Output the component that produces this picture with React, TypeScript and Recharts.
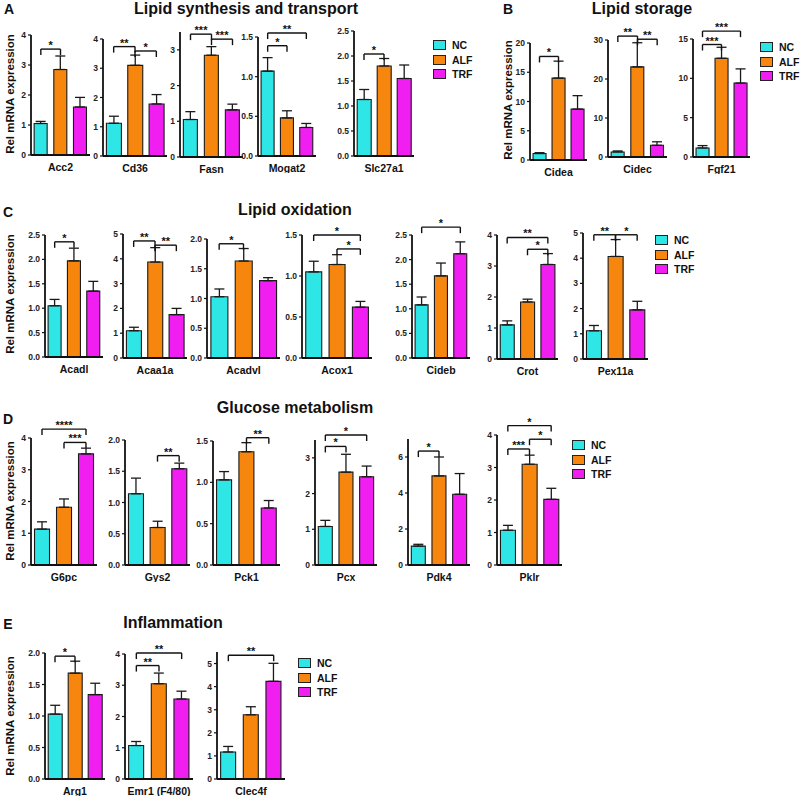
import React from "react";
import { BarChart, Bar, XAxis, YAxis, ErrorBar, Cell, ReferenceLine } from "recharts";

const GROUPS = ["NC", "ALF", "TRF"];
const COLORS = ["#2ee6e6", "#f7860f", "#f01ef0"];
const FONT = '"Liberation Sans", Arial, sans-serif';

// A - lipid synthesis and transport
const synthGenes = ["Acc2", "Cd36", "Fasn", "Mogat2", "Slc27a1"];
const synthMean = [[1.05, 2.85, 1.6], [1.12, 3.1, 1.78], [1.05, 2.85, 1.32], [1.07, 0.48, 0.36], [1.13, 1.8, 1.55]];
const synthErr = [[0.07, 0.45, 0.32], [0.24, 0.35, 0.32], [0.22, 0.24, 0.16], [0.17, 0.09, 0.05], [0.2, 0.15, 0.27]];
const synthTicks = [[0, 1, 2, 3, 4], [0, 1, 2, 3, 4], [0, 1, 2, 3], [0, 0.5, 1, 1.5], [0, 0.5, 1, 1.5, 2, 2.5]];
const synthMax = [4, 4, 3.5, 1.5, 2.5];
const synthSig = [
  [["NC", "ALF", 3.53, "*"]],
  [["NC", "ALF", 3.74, "**"], ["ALF", "TRF", 3.59, "*"]],
  [["NC", "ALF", 3.44, "***"], ["ALF", "TRF", 3.3, "***"]],
  [["NC", "TRF", 1.55, "**"], ["NC", "ALF", 1.39, "*"]],
  [["NC", "ALF", 2.04, "*"]],
];

// B - lipid storage
const storeGenes = ["Cidea", "Cidec", "Fgf21"];
const storeMean = [[1.1, 14, 8.7], [1.3, 23.1, 3.0], [1.15, 12.55, 9.4]];
const storeErr = [[0.15, 2.9, 2.3], [0.25, 6.2, 0.9], [0.3, 1.4, 1.8]];
const storeTicks = [[0, 5, 10, 15, 20], [0, 10, 20, 30], [0, 5, 10, 15]];
const storeMax = [20, 30, 15];
const storeSig = [
  [["NC", "ALF", 17.7, "*"]],
  [["NC", "ALF", 31, "**"], ["ALF", "TRF", 30.2, "**"]],
  [["NC", "TRF", 16, "***"], ["NC", "ALF", 14.3, "***"]],
];

// C - lipid oxidation
const oxGenes = ["Acadl", "Acaa1a", "Acadvl", "Acox1", "Cideb", "Crot", "Pex11a"];
const oxMean = [[1.05, 1.97, 1.35], [1.1, 3.87, 1.75], [1.03, 1.63, 1.3], [1.05, 1.14, 0.62], [1.08, 1.67, 2.12], [1.1, 1.84, 3.05], [1.12, 4.07, 1.95]];
const oxErr = [[0.13, 0.26, 0.2], [0.14, 0.58, 0.25], [0.13, 0.21, 0.05], [0.13, 0.12, 0.07], [0.16, 0.26, 0.24], [0.13, 0.09, 0.35], [0.21, 0.67, 0.34]];
const oxTicks = [[0, 0.5, 1, 1.5, 2, 2.5], [0, 1, 2, 3, 4, 5], [0, 0.5, 1, 1.5, 2], [0, 0.5, 1, 1.5], [0, 0.5, 1, 1.5, 2, 2.5], [0, 1, 2, 3, 4], [0, 1, 2, 3, 4, 5]];
const oxMax = [2.5, 5, 2, 1.5, 2.5, 4, 5];
const oxSig = [
  [["NC", "ALF", 2.36, "*"]],
  [["NC", "ALF", 4.72, "**"], ["ALF", "TRF", 4.55, "**"]],
  [["NC", "ALF", 1.92, "*"]],
  [["NC", "TRF", 1.5, "*"], ["ALF", "TRF", 1.33, "*"]],
  [["NC", "TRF", 2.66, "*"]],
  [["NC", "TRF", 3.92, "**"], ["ALF", "TRF", 3.54, "*"]],
  [["NC", "ALF", 4.93, "**"], ["ALF", "TRF", 4.93, "*"]],
];

// D - glucose metabolism
const glucGenes = ["G6pc", "Gys2", "Pck1", "Pcx", "Pdk4", "Pklr"];
const glucMean = [[1.13, 1.82, 3.5], [1.14, 0.6, 1.54], [1.03, 1.37, 0.69], [1.08, 2.6, 2.47], [1.05, 4.95, 3.93], [1.07, 3.1, 2.02]];
const glucErr = [[0.23, 0.26, 0.18], [0.25, 0.1, 0.09], [0.1, 0.11, 0.09], [0.17, 0.5, 0.3], [0.1, 1.05, 1.15], [0.15, 0.28, 0.34]];
const glucTicks = [[0, 1, 2, 3, 4], [0, 0.5, 1, 1.5, 2], [0, 0.5, 1, 1.5], [0, 1, 2, 3], [0, 2, 4, 6], [0, 1, 2, 3, 4]];
const glucMax = [4, 2, 1.5, 3.5, 7, 4];
const glucSig = [
  [["NC", "TRF", 4.28, "****"], ["ALF", "TRF", 3.86, "***"]],
  [["ALF", "TRF", 1.75, "**"]],
  [["ALF", "TRF", 1.54, "**"]],
  [["NC", "TRF", 3.64, "*"], ["NC", "ALF", 3.32, "*"]],
  [["NC", "ALF", 6.33, "*"]],
  [["NC", "TRF", 4.29, "*"], ["ALF", "TRF", 3.87, "*"], ["NC", "ALF", 3.57, "***"]],
];

// E - inflammation
const inflGenes = ["Arg1", "Emr1 (F4/80)", "Clec4f"];
const inflMean = [[1.03, 1.68, 1.34], [1.07, 3.05, 2.56], [1.17, 2.78, 4.23]];
const inflErr = [[0.14, 0.19, 0.18], [0.13, 0.34, 0.25], [0.24, 0.35, 0.78]];
const inflTicks = [[0, 0.5, 1, 1.5, 2], [0, 1, 2, 3, 4], [0, 1, 2, 3, 4, 5]];
const inflMax = [2, 4, 5.5];
const inflSig = [
  [["NC", "ALF", 1.95, "*"]],
  [["NC", "TRF", 4.03, "**"], ["NC", "ALF", 3.63, "**"]],
  [["NC", "TRF", 5.36, "**"]],
];

// placement of each mini chart: y-axis x, x-axis end, pixel of 0, pixel of domain max
const synthBox = [[31, 90, 155, 35], [103, 167, 156, 39], [180, 243, 157, 32], [258, 316, 156, 37], [354, 414, 156, 31]];
const storeBox = [[530, 587, 160, 43], [608, 667, 157, 40], [693, 750, 157, 39]];
const oxBox = [[45, 103, 357, 235], [123, 187, 358, 234], [207, 280, 358, 239], [302, 372, 358, 235], [412, 470, 358, 235], [497, 558, 359, 235], [583, 648, 359, 233]];
const glucBox = [[31, 97, 565, 438], [125, 190, 565, 440], [213, 280, 565, 441], [315, 377, 565, 440], [408, 470, 565, 439], [497, 562, 565, 435]];
const inflBox = [[45, 105, 779, 653], [125, 193, 779, 654], [217, 285, 779, 652]];

function Mini({ gene, mean, err, ticks, max, sig, box }: any) {
  const [x, x2, y0, yt] = box;
  const W = 28;
  const MT = 30;
  const XH = 17;
  const plotH = y0 - yt;
  const data = GROUPS.map((g, i) => ({ g, v: mean[i], e: [0, err[i]] }));
  const drop = (max * 6) / plotH;
  const dec = ticks.some((t: number) => t % 1 !== 0) ? 1 : 0;
  const lineProps = { stroke: "#111", strokeWidth: 1.4, ifOverflow: "visible" as const };
  return (
    <div style={{ position: "absolute", left: x - W, top: yt - MT }}>
      <BarChart
        width={W + (x2 - x) + 2}
        height={MT + plotH + XH}
        data={data}
        margin={{ top: MT, right: 2, left: 0, bottom: 0 }}
        barCategoryGap="16%"
      >
        <XAxis
          dataKey="g"
          tick={false}
          tickLine={false}
          height={XH}
          axisLine={{ stroke: "#111", strokeWidth: 1.8 }}
          label={{ value: gene, position: "insideBottom", offset: 1, fontSize: 10.5, fontWeight: 700, fill: "#111" }}
        />
        <YAxis
          width={W}
          domain={[0, max]}
          ticks={ticks}
          interval={0}
          allowDataOverflow
          tickSize={3}
          tick={{ fontSize: 8.5, fontWeight: 700, fill: "#222" }}
          tickFormatter={(v: number) => v.toFixed(dec)}
          axisLine={{ stroke: "#111", strokeWidth: 1.8 }}
          tickLine={{ stroke: "#111", strokeWidth: 1.2 }}
        />
        <Bar dataKey="v" isAnimationActive={false} stroke="#1a1a1a" strokeWidth={1.1}>
          {data.map((d, i) => (
            <Cell key={d.g} fill={COLORS[i]} />
          ))}
          <ErrorBar dataKey="e" width={5} stroke="#1a1a1a" strokeWidth={1.3} direction="y" />
        </Bar>
        {sig.flatMap(([a, b, h, s]: any, k: number) => [
          <ReferenceLine
            key={`h${k}`}
            {...lineProps}
            segment={[{ x: a, y: h }, { x: b, y: h }]}
            label={{ value: s, position: "top", offset: 0, fontSize: 11, fontWeight: 700, fill: "#111" }}
          />,
          <ReferenceLine key={`l${k}`} {...lineProps} segment={[{ x: a, y: h }, { x: a, y: h - drop }]} />,
          <ReferenceLine key={`r${k}`} {...lineProps} segment={[{ x: b, y: h }, { x: b, y: h - drop }]} />,
        ])}
      </BarChart>
    </div>
  );
}

function Row({ genes, mean, err, ticks, max, sig, box }: any) {
  return (
    <>
      {genes.map((g: string, i: number) => (
        <Mini key={g} gene={g} mean={mean[i]} err={err[i]} ticks={ticks[i]} max={max[i]} sig={sig[i]} box={box[i]} />
      ))}
    </>
  );
}

function Legend({ x, y }: { x: number; y: number }) {
  return (
    <div style={{ position: "absolute", left: x, top: y }}>
      {GROUPS.map((g, i) => (
        <div key={g} style={{ display: "flex", alignItems: "center", height: 14.5 }}>
          <div style={{ width: 11, height: 8, background: COLORS[i], border: "1px solid #222", marginRight: 6 }} />
          <span style={{ fontSize: 10.5, fontWeight: 700, color: "#111" }}>{g}</span>
        </div>
      ))}
    </div>
  );
}

function Text({ x, y, size, children }: any) {
  return (
    <div style={{ position: "absolute", left: x, top: y, fontSize: size, fontWeight: 700, color: "#111", whiteSpace: "nowrap", transform: "translate(-50%, -50%)" }}>
      {children}
    </div>
  );
}

function YTitle({ x, y }: { x: number; y: number }) {
  return (
    <div style={{ position: "absolute", left: x, top: y, fontSize: 11.5, fontWeight: 700, color: "#111", whiteSpace: "nowrap", transform: "translate(-50%, -50%) rotate(-90deg)" }}>
      Rel mRNA expression
    </div>
  );
}

export default function App() {
  return (
    <div style={{ position: "absolute", left: 0, top: 0, width: 800, height: 799, background: "#fff", fontFamily: FONT, overflow: "hidden" }}>
      <Text x={9} y={9} size={14}>A</Text>
      <Text x={246} y={9} size={16}>Lipid synthesis and transport</Text>
      <Text x={508} y={9} size={14}>B</Text>
      <Text x={642} y={9} size={16}>Lipid storage</Text>
      <Text x={8} y={212} size={14}>C</Text>
      <Text x={295} y={210} size={16}>Lipid oxidation</Text>
      <Text x={8} y={419} size={14}>D</Text>
      <Text x={295} y={408} size={16}>Glucose metabolism</Text>
      <Text x={8} y={624} size={14}>E</Text>
      <Text x={173} y={623} size={16}>Inflammation</Text>

      <YTitle x={10} y={94} />
      <YTitle x={508} y={100} />
      <YTitle x={10} y={294} />
      <YTitle x={10} y={501} />
      <YTitle x={10} y={716} />

      <Row genes={synthGenes} mean={synthMean} err={synthErr} ticks={synthTicks} max={synthMax} sig={synthSig} box={synthBox} />
      <Row genes={storeGenes} mean={storeMean} err={storeErr} ticks={storeTicks} max={storeMax} sig={storeSig} box={storeBox} />
      <Row genes={oxGenes} mean={oxMean} err={oxErr} ticks={oxTicks} max={oxMax} sig={oxSig} box={oxBox} />
      <Row genes={glucGenes} mean={glucMean} err={glucErr} ticks={glucTicks} max={glucMax} sig={glucSig} box={glucBox} />
      <Row genes={inflGenes} mean={inflMean} err={inflErr} ticks={inflTicks} max={inflMax} sig={inflSig} box={inflBox} />

      <Legend x={433} y={38} />
      <Legend x={760} y={40} />
      <Legend x={655} y={233} />
      <Legend x={572} y={438} />
      <Legend x={298} y={656} />
    </div>
  );
}
